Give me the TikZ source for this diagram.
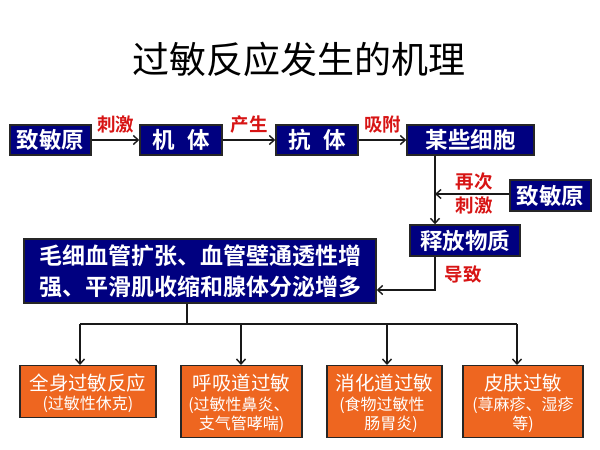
\documentclass[tikz,border=0pt]{standalone}
\usepackage{fontspec}
\setmainfont{Noto Sans CJK SC}[BoldFont={Noto Sans CJK SC Bold}]
\usetikzlibrary{arrows.meta}
\definecolor{navy}{RGB}{0,0,128}
\definecolor{orangebox}{RGB}{238,102,32}
\definecolor{lblred}{RGB}{215,20,20}
\tikzset{
  bluebox/.style={draw=black!85, line width=1.4pt, fill=navy, text=white, font=\bfseries\fontsize{22.5}{24}\selectfont, inner sep=0pt, align=center},
  orbox/.style={draw=black!85, line width=1.4pt, fill=orangebox, text=white, inner sep=0pt, align=center, anchor=north},
  lbl/.style={text=lblred, font=\bfseries\fontsize{18.5}{20}\selectfont, inner sep=0pt},
  conn/.style={line width=1.6pt, draw=black!90},
  arr/.style={conn, -{Straight Barb[length=5pt,width=9pt,line width=1.4pt]}},
  big/.style={font=\fontsize{19.5}{23}\selectfont},
  small/.style={font=\fontsize{16}{20}\selectfont}
}
\begin{document}
\begin{tikzpicture}[x=1pt,y=-1pt]
\useasboundingbox (0,0) rectangle (600,450);
\node (title) at (299,59) {\fontsize{37}{40}\selectfont 过敏反应发生的机理};
% row 1
\node[bluebox, minimum width=81pt, minimum height=30pt] (a) at (50.5,140) {致敏原};
\node[bluebox, minimum width=82pt, minimum height=30pt] (b) at (181,140) {机\hspace{0.55em}体};
\node[bluebox, minimum width=82pt, minimum height=30pt] (c) at (317,140) {抗\hspace{0.55em}体};
\node[bluebox, minimum width=127pt, minimum height=30pt] (d) at (470.5,140) {某些细胞};
\draw[arr] (a) -- (b) node[lbl, midway, above=6pt] {刺激};
\draw[arr] (b) -- (c) node[lbl, midway, above=6pt] {产生};
\draw[arr] (c) -- (d) node[lbl, midway, above=6pt] {吸附};
% second allergen
\node[bluebox, minimum width=81pt, minimum height=31pt] (e) at (550.5,195.5) {致敏原};
\node[bluebox, minimum width=110pt, minimum height=31pt] (f) at (465,240.5) {释放物质};
\coordinate (dtop) at (435,155);
\coordinate (join) at (435,194);
\draw[arr] (d.south -| dtop) -- (f.north -| dtop);
\draw[arr] (e.west |- join) -- (join);
\node[lbl] (l4) at (474,182) {再次};
\node[lbl] (l5) at (474,205) {刺激};
% big box
\node[bluebox, minimum width=352pt, minimum height=64pt, font=\bfseries\fontsize{23}{31}\selectfont] (g) at (200,271) {毛细血管扩张、血管壁通透性增\\强、平滑肌收缩和腺体分泌增多};
\coordinate (fturn) at (435,290);
\draw[arr] (f.south -| fturn) -- (fturn) -- (g.east |- fturn);
\node[lbl] (l6) at (463,274) {导致};
% branches
\coordinate (gb) at (187,324);
\coordinate (br1) at (80,324);
\coordinate (br2) at (241,324);
\coordinate (br3) at (387,324);
\coordinate (br4) at (517,324);
\node[orbox, minimum width=136pt, minimum height=52pt] (h1) at (88,365) {};
\node[orbox, minimum width=121pt, minimum height=72pt] (h2) at (241.5,365) {};
\node[orbox, minimum width=115pt, minimum height=72pt] (h3) at (384.5,365) {};
\node[orbox, minimum width=120pt, minimum height=72pt] (h4) at (523,365) {};
\node[big, text=white] (t1a) at (88,383) {全身过敏反应};
\node[small, text=white] (t1b) at (88,404) {(过敏性休克)};
\node[big, text=white] (t2a) at (241.5,383) {呼吸道过敏};
\node[small, text=white] (t2b) at (239,405) {(过敏性鼻炎、};
\node[small, text=white] (t2c) at (241.5,424) {支气管哮喘)};
\node[big, text=white] (t3a) at (384.5,383) {消化道过敏};
\node[small, text=white] (t3b) at (382,405) {(食物过敏性};
\node[small, text=white] (t3c) at (391,424) {肠胃炎)};
\node[big, text=white] (t4a) at (523,383) {皮肤过敏};
\node[small, text=white] (t4b) at (523,405) {(荨麻疹、湿疹};
\node[small, text=white] (t4c) at (523,424) {等)};
\draw[conn] (g.south -| gb) -- (gb);
\draw[conn] (br1) -- (br4);
\draw[arr] (br1) -- (h1.north -| br1);
\draw[arr] (br2) -- (h2.north -| br2);
\draw[arr] (br3) -- (h3.north -| br3);
\draw[arr] (br4) -- (h4.north -| br4);
\end{tikzpicture}
\end{document}
